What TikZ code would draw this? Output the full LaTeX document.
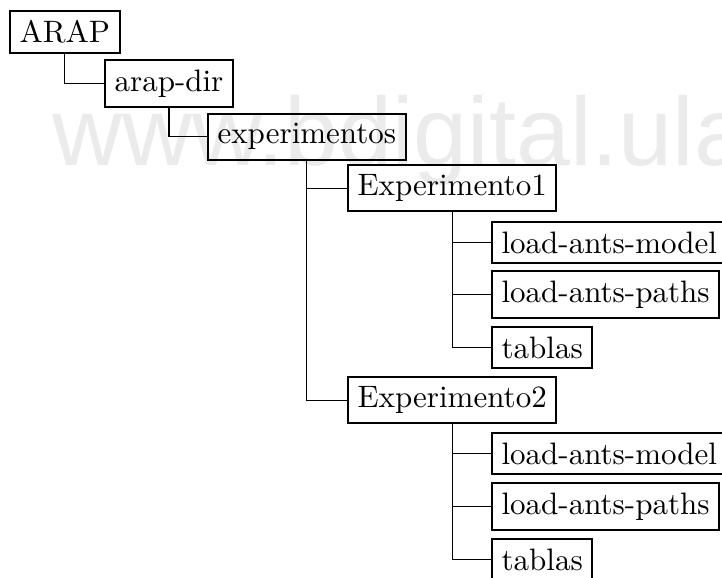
\documentclass[tikz,border=0pt]{standalone}
\usepackage{fontspec}
\newfontfamily\wmfont{Liberation Sans}
\begin{document}
\begin{tikzpicture}[x=0.32258pt,y=-0.32258pt,
  dirbox/.style={draw, line width=0.65pt, inner sep=3.1pt, anchor=north west, font=\normalsize},
  link/.style={draw, line width=0.4pt},
  watermark/.style={anchor=base west, inner sep=0pt, text=black!8, font=\wmfont\fontsize{31.3}{36}\selectfont}]
\useasboundingbox (0,0) rectangle (722,577);
\clip (0,0) rectangle (722,577);
\node[watermark] (wm) at (52,165) {www.bdigital.ula};
\node[dirbox] (arap) at (9,10) {ARAP};
\node[dirbox] (arapdir) at (104,59) {arap-dir};
\node[dirbox] (exps) at (207,113) {experimentos};
\node[dirbox] (exp1) at (347,164) {Experimento1};
\node[dirbox] (lam1) at (491,221) {load-ants-model};
\node[dirbox] (lap1) at (491,270) {load-ants-paths};
\node[dirbox] (tab1) at (491,326) {tablas};
\node[dirbox] (exp2) at (347,376) {Experimento2};
\node[dirbox] (lam2) at (491,432) {load-ants-model};
\node[dirbox] (lap2) at (491,482) {load-ants-paths};
\node[dirbox] (tab2) at (491,538) {tablas};
\draw[link] (arap.south) |- (arapdir.west);
\draw[link] (arapdir.south) |- (exps.west);
\draw[link] (exps.south) |- (exp1.west);
\draw[link] (exps.south) |- (exp2.west);
\draw[link] (exp1.south) |- (lam1.west);
\draw[link] (exp1.south) |- (lap1.west);
\draw[link] (exp1.south) |- (tab1.west);
\draw[link] (exp2.south) |- (lam2.west);
\draw[link] (exp2.south) |- (lap2.west);
\draw[link] (exp2.south) |- (tab2.west);
\end{tikzpicture}
\end{document}
